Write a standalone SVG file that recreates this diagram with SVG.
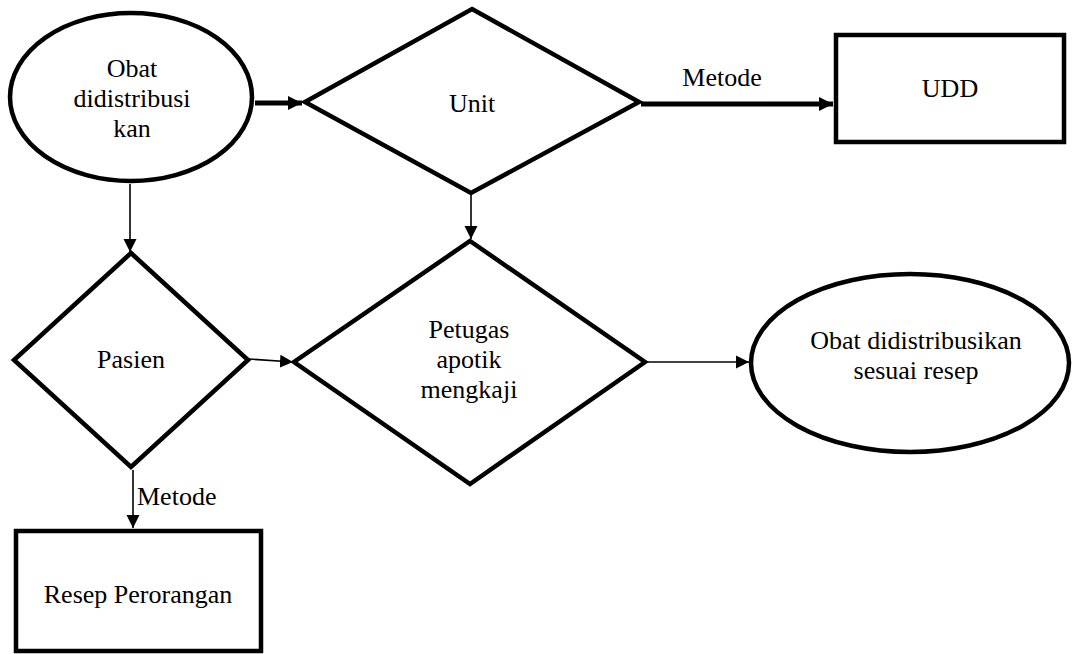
<svg xmlns="http://www.w3.org/2000/svg" width="1072" height="654" viewBox="0 0 1072 654">
<style>
.shape{fill:#fff;stroke:#000;stroke-width:4.5;stroke-linejoin:miter}
.thin{fill:none;stroke:#000;stroke-width:1.6}
.thick{fill:none;stroke:#000;stroke-width:5}
text{font-family:"Liberation Serif","Times New Roman",serif;font-size:26px;fill:#000;text-anchor:middle}
</style>
<defs>
<marker id="ah" markerUnits="userSpaceOnUse" markerWidth="14" markerHeight="14" refX="13" refY="7" orient="auto">
<path d="M0,0.5 L13,7 L0,13.5 z" fill="#000"/>
</marker>
<marker id="ahb" markerUnits="userSpaceOnUse" markerWidth="16" markerHeight="16" refX="14" refY="8" orient="auto">
<path d="M0,1 L14,8 L0,15 z" fill="#000"/>
</marker>
</defs>
<rect width="1072" height="654" fill="#fff"/>
<g id="connectors">
<line class="thick" x1="255" y1="103" x2="302" y2="103" marker-end="url(#ahb)"/>
<line class="thick" x1="641" y1="104" x2="833" y2="104" marker-end="url(#ahb)"/>
<line class="thin" x1="130" y1="184" x2="130" y2="252" marker-end="url(#ah)"/>
<line class="thin" x1="471" y1="195" x2="471" y2="239" marker-end="url(#ah)"/>
<line class="thin" x1="249" y1="359" x2="293" y2="362" marker-end="url(#ah)"/>
<line class="thin" x1="646" y1="362" x2="749" y2="362" marker-end="url(#ah)"/>
<line class="thin" x1="133" y1="470" x2="133" y2="528" marker-end="url(#ah)"/>
<text x="722" y="86">Metode</text>
<text x="137" y="505" style="text-anchor:start">Metode</text>
</g>
<g id="node-obat">
<ellipse class="shape" cx="131" cy="97" rx="121" ry="84"/>
<text x="132" y="77">Obat</text>
<text x="132" y="107">didistribusi</text>
<text x="132" y="137">kan</text>
</g>
<g id="node-unit">
<polygon class="shape" points="472,9 639,102 471,193 305,102"/>
<text x="472" y="112">Unit</text>
</g>
<g id="node-udd">
<rect class="shape" x="836" y="35" width="228" height="107"/>
<text x="950" y="97">UDD</text>
</g>
<g id="node-pasien">
<polygon class="shape" points="131,253 248,360 131,467 14,360"/>
<text x="131" y="368">Pasien</text>
</g>
<g id="node-petugas">
<polygon class="shape" points="470,241 645,362 470,484 294,362"/>
<text x="469" y="338">Petugas</text>
<text x="469" y="368">apotik</text>
<text x="469" y="398">mengkaji</text>
</g>
<g id="node-obat-resep">
<ellipse class="shape" cx="910" cy="363" rx="159" ry="89"/>
<text x="916" y="349">Obat didistribusikan</text>
<text x="916" y="379">sesuai resep</text>
</g>
<g id="node-resep">
<rect class="shape" x="16" y="531" width="245" height="120"/>
<text x="138" y="603">Resep Perorangan</text>
</g>
</svg>
